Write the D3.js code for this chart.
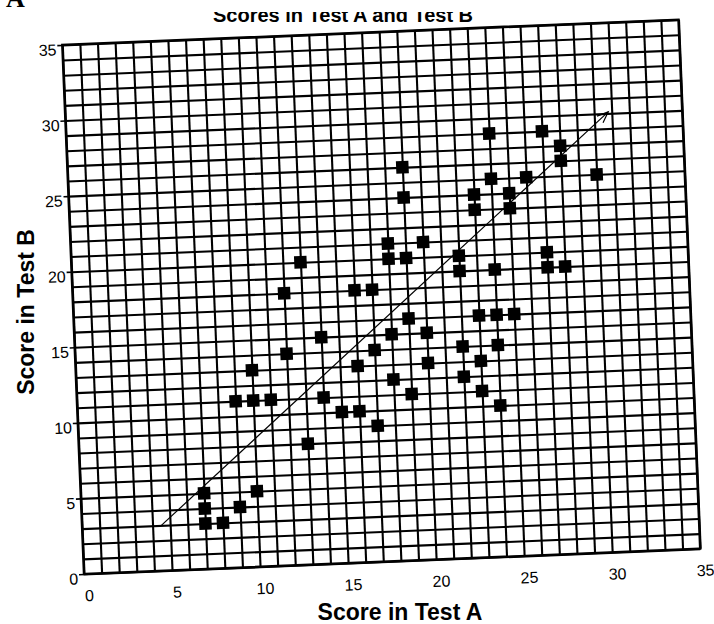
<!DOCTYPE html>
<html>
<head>
<meta charset="utf-8">
<script src="https://cdn.jsdelivr.net/npm/d3@7"></script>
<style>
  body { margin: 0; background: #fff; }
  text { font-family: "Liberation Sans", Arial, sans-serif; }
</style>
</head>
<body>
<svg id="chart" width="714" height="624"></svg>
<script>
// scores (one entry per student)
var testA = [7, 7, 7, 8, 9, 10,
             9, 10, 11, 10, 12, 14, 14, 13,
             15, 16, 17, 16, 17,
             13, 12, 16, 17,
             24, 27, 28, 28, 30, 19, 19, 24, 26, 23, 25, 23, 25,
             18, 18, 19, 20, 22, 22, 24, 27, 27, 28,
             19, 23, 24, 25,
             18, 20, 22, 24, 20, 23, 18, 22, 19, 23, 24];
var testB = [3, 4, 5, 3, 4, 5,
             11, 11, 11, 13, 14, 15, 11, 8,
             10, 10, 9, 13, 14,
             20, 18, 18, 18,
             28, 28, 27, 26, 25, 26, 24, 25, 25, 24, 24, 23, 23,
             21, 20, 20, 21, 20, 19, 19, 20, 19, 19,
             16, 16, 16, 16,
             15, 15, 14, 14, 13, 13, 12, 12, 11, 11, 10];

var xTicks = [0, 5, 10, 15, 20, 25, 30, 35];
var yTicks = [0, 5, 10, 15, 20, 25, 30, 35];

// hand drawn arrow (start, end) in score units
var arrowFrom = [4.5, 3];
var arrowTo = [30.8, 29.1];

var W = 616.7, H = 529.5;
var svg = d3.select('#chart');

// the scan is tilted a little, so the whole plot is turned round its origin
var plot = svg.append('g')
	.attr('transform', 'translate(84,574) rotate(-2.35) translate(0,' + (-H) + ')');

var x = d3.scaleLinear().domain([0, 35]).range([0, W]);
var y = d3.scaleLinear().domain([0, 35]).range([H, 0]);

// grid, one line per point
plot.append('g')
	.attr('transform', 'translate(0,' + H + ')')
	.call(d3.axisBottom(x).tickValues(d3.range(0, 36)).tickSize(-H).tickFormat(''))
	.call(function(g) { g.select('.domain').remove(); })
	.selectAll('line').attr('stroke', '#000').attr('stroke-width', 2.1);

plot.append('g')
	.call(d3.axisLeft(y).tickValues(d3.range(0, 36)).tickSize(-W).tickFormat(''))
	.call(function(g) { g.select('.domain').remove(); })
	.selectAll('line').attr('stroke', '#000').attr('stroke-width', 2.1);

plot.append('rect')
	.attr('width', W).attr('height', H)
	.attr('fill', 'none').attr('stroke', '#000').attr('stroke-width', 2.4);

// tick labels
var yAx = plot.append('g')
	.call(d3.axisLeft(y).tickValues(yTicks).tickSize(5).tickPadding(1));
yAx.select('.domain').remove();
yAx.selectAll('line').attr('stroke', '#000').attr('stroke-width', 1.6);
yAx.selectAll('text').attr('font-size', '16px').attr('fill', '#000').attr('dy', '0.6em')
	.style('font-family', '"Liberation Sans", Arial, sans-serif');

var xAx = plot.append('g')
	.attr('transform', 'translate(0,' + H + ')')
	.call(d3.axisBottom(x).tickValues(xTicks).tickSize(0).tickPadding(16));
xAx.select('.domain').remove();
xAx.selectAll('text').attr('font-size', '16px').attr('fill', '#000').attr('dx', 4)
	.style('font-family', '"Liberation Sans", Arial, sans-serif');

// arrow
var ax1 = x(arrowFrom[0]), ay1 = y(arrowFrom[1]);
var ax2 = x(arrowTo[0]), ay2 = y(arrowTo[1]);
var ang = Math.atan2(ay2 - ay1, ax2 - ax1);
var headLen = 12, spread = 0.38;
plot.append('line')
	.attr('x1', ax1).attr('y1', ay1).attr('x2', ax2).attr('y2', ay2)
	.attr('stroke', '#000').attr('stroke-width', 1.2);
plot.append('path')
	.attr('d', 'M' + (ax2 - headLen * Math.cos(ang - spread)) + ',' + (ay2 - headLen * Math.sin(ang - spread)) +
		'L' + ax2 + ',' + ay2 +
		'L' + (ax2 - headLen * Math.cos(ang + spread)) + ',' + (ay2 - headLen * Math.sin(ang + spread)))
	.attr('fill', 'none').attr('stroke', '#000').attr('stroke-width', 1.2);

// points
var sz = 12.5;
plot.selectAll('rect.pt')
	.data(testA)
	.enter()
	.append('rect')
	.attr('class', 'pt')
	.attr('x', function(d) { return x(d) - sz / 2; })
	.attr('y', function(d, i) { return y(testB[i]) - sz / 2; })
	.attr('width', sz)
	.attr('height', sz)
	.attr('fill', '#000');

// axis titles
svg.append('text')
	.attr('x', 400).attr('y', 620)
	.attr('text-anchor', 'middle')
	.attr('font-size', '23px').attr('font-weight', 'bold')
	.text('Score in Test A');

svg.append('text')
	.attr('transform', 'translate(34,312) rotate(-90)')
	.attr('text-anchor', 'middle')
	.attr('font-size', '23px').attr('font-weight', 'bold')
	.text('Score in Test B');

// title, cut off at the top in the scan
svg.append('clipPath').attr('id', 'titleClip')
	.append('rect').attr('x', 0).attr('y', 12).attr('width', 714).attr('height', 18);

svg.append('text')
	.attr('clip-path', 'url(#titleClip)')
	.attr('x', 213).attr('y', 22)
	.attr('font-size', '20px').attr('font-weight', 'bold')
	.text('Scores in Test A and Test B');

// panel letter, also cut by the top edge of the scan
svg.append('text')
	.attr('x', 6).attr('y', 7)
	.style('font-family', '"Liberation Serif", "Times New Roman", serif')
	.attr('font-size', '26px').attr('font-weight', 'bold')
	.text('A');
</script>
</body>
</html>
